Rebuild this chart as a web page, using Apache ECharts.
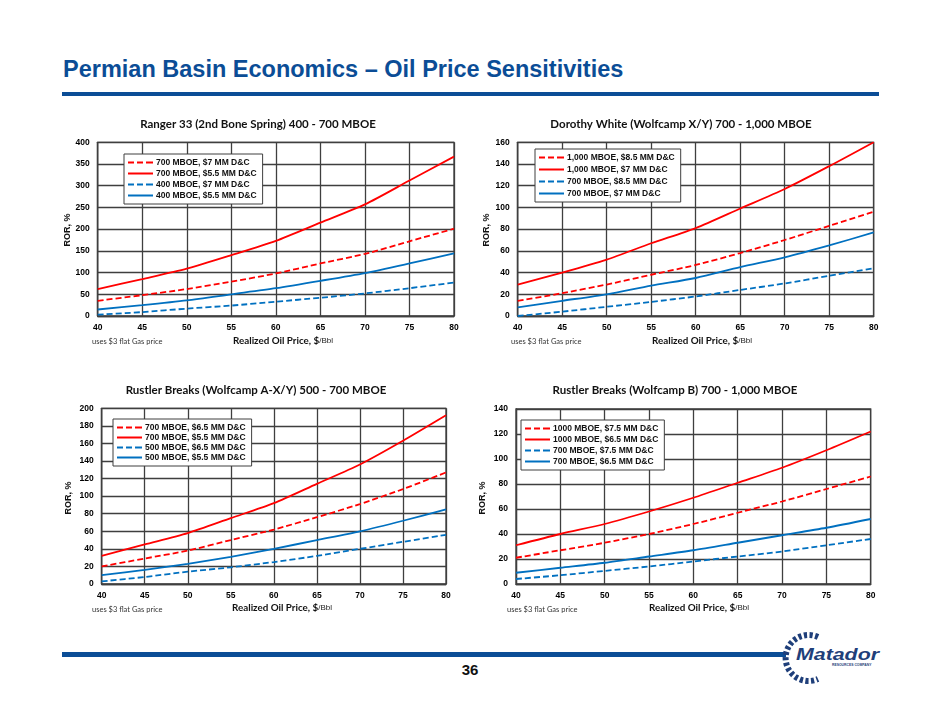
<!DOCTYPE html>
<html>
<head>
<meta charset="utf-8">
<script src="https://cdn.jsdelivr.net/npm/echarts@6/dist/echarts.min.js"></script>
<style>
  html, body { margin: 0; padding: 0; background: #fff; }
  body { width: 940px; height: 705px; position: relative; overflow: hidden; }
  .chart { position: absolute; width: 420px; height: 250px; }
  #pageTitle {
    position: absolute; left: 63px; top: 56px; white-space: nowrap;
    font-family: "Liberation Sans", Arial, sans-serif; font-weight: bold; font-size: 23.5px;
    color: #0b4d96;
  }
  #topRule { position: absolute; left: 62px; top: 92px; width: 817px; height: 4px; background: #0b4d96; }
  #footRule { position: absolute; left: 62px; top: 652px; width: 724px; height: 5px; background: #0b4d96; }
  #pageNum {
    position: absolute; left: 452px; top: 661px; width: 36px; text-align: center;
    font-family: "Liberation Sans", Arial, sans-serif; font-weight: bold; font-size: 15px; color: #111;
  }
  #logo { position: absolute; left: 780px; top: 628px; }
</style>
</head>
<body>
<div id="pageTitle">Permian Basin Economics – Oil Price Sensitivities</div>
<div id="topRule"></div>
<div id="chart1" class="chart" style="left:50px;top:105px;"></div>
<div id="chart2" class="chart" style="left:470px;top:105px;"></div>
<div id="chart3" class="chart" style="left:50px;top:372px;"></div>
<div id="chart4" class="chart" style="left:470px;top:372px;"></div>
<div id="footRule"></div>
<div id="pageNum">36</div>
<svg id="logo" width="105" height="60" viewBox="0 0 105 60">
  <path d="M 38 9 A 23 23 0 1 0 38 51" fill="none" stroke="#1f3f7a" stroke-width="6" stroke-dasharray="3.2 2.4"/>
  <text x="16" y="32" font-family="Liberation Sans, Arial" font-weight="bold" font-style="italic" font-size="16" fill="#1f3f7a" textLength="83" lengthAdjust="spacingAndGlyphs">Matador</text>
  <text x="52" y="38" font-family="Liberation Sans, Arial" font-weight="bold" font-size="3.4" fill="#1f3f7a">RESOURCES COMPANY</text>
</svg>

<script>
// 油价（x 轴）
const oilPrices = [40, 45, 50, 55, 60, 65, 70, 75, 80];

// Ranger 33 (2nd Bone Spring)
const rangerNames = ["700 MBOE, $7 MM D&C", "700 MBOE, $5.5 MM D&C", "400 MBOE, $7 MM D&C", "400 MBOE, $5.5 MM D&C"];
const ranger700Hi = [35, 48, 62, 79, 98, 121, 143, 172, 201];
const ranger700Lo = [62, 85, 109, 140, 173, 215, 257, 312, 367];
const ranger400Hi = [3, 9, 17, 24, 33, 42, 52, 64, 77];
const ranger400Lo = [15, 25, 36, 50, 64, 81, 99, 121, 144];

// Dorothy White (Wolfcamp X/Y)
const dorothyNames = ["1,000 MBOE, $8.5 MM D&C", "1,000 MBOE, $7 MM D&C", "700 MBOE, $8.5 MM D&C", "700 MBOE, $7 MM D&C"];
const dorothy1000Hi = [14, 21, 29, 38, 47, 58, 70, 83, 96];
const dorothy1000Lo = [29, 40, 52, 67, 81, 99, 117, 138, 160];
const dorothy700Hi = [0, 4, 8.5, 13, 18, 24, 30, 37, 44];
const dorothy700Lo = [8, 14, 20, 28, 35, 45, 54, 65, 77];

// Rustler Breaks (Wolfcamp A-X/Y)
const rustlerANames = ["700 MBOE, $6.5 MM D&C", "700 MBOE, $5.5 MM D&C", "500 MBOE, $6.5 MM D&C", "500 MBOE, $5.5 MM D&C"];
const rustlerA700Hi = [20, 29, 38, 50, 62, 76, 91, 108, 127];
const rustlerA700Lo = [32, 45, 58, 75, 92, 114, 136, 163, 192];
const rustlerA500Hi = [3, 8, 14, 19, 25, 32, 40, 48, 56];
const rustlerA500Lo = [10, 16, 23, 31, 40, 50, 60, 72, 85];

// Rustler Breaks (Wolfcamp B)
const rustlerBNames = ["1000 MBOE, $7.5 MM D&C", "1000 MBOE, $6.5 MM D&C", "700 MBOE, $7.5 MM D&C", "700 MBOE, $6.5 MM D&C"];
const rustlerB1000Hi = [21, 27, 33, 40, 48, 57, 66, 76, 86];
const rustlerB1000Lo = [31, 40, 48, 58, 69, 81, 93, 107, 122];
const rustlerB700Hi = [4, 7, 10.5, 14, 18, 22, 26, 31, 36];
const rustlerB700Lo = [9, 13, 17, 22, 27, 33, 39, 45, 52];

const RED = "#ff0000";
const BLUE = "#0070c0";
const GRID = "#3f3f3f";
const TICK_FONT = "Liberation Sans";
const TITLE_FONT = "Lato";

// 图例图标：虚线 / 实线
const DASH_ICON = "path://M0,0h6v2h-6zM9,0h6v2h-6zM18,0h7v2h-7z";
const SOLID_ICON = "path://M0,0h25v2h-25z";

// 每个图表的版面（页面坐标）
const charts = [
  {
    id: "chart1", box: [50, 105], plot: [97.7, 142.3, 454, 316], yMax: 400, yStep: 50,
    title: "Ranger 33 (2nd Bone Spring) 400 - 700 MBOE", titlePos: [258, 124],
    names: rangerNames, values: [ranger700Hi, ranger700Lo, ranger400Hi, ranger400Lo],
    legend: [124, 154], legendGap: 2, ror: [68, 230], xName: [283, 341], note: [92, 342]
  },
  {
    id: "chart2", box: [470, 105], plot: [517.7, 142.3, 873.7, 316], yMax: 160, yStep: 20,
    title: "Dorothy White (Wolfcamp X/Y) 700 - 1,000 MBOE", titlePos: [681, 124],
    names: dorothyNames, values: [dorothy1000Hi, dorothy1000Lo, dorothy700Hi, dorothy700Lo],
    legend: [535, 149], legendGap: 3, ror: [487, 230], xName: [702, 341], note: [511, 342]
  },
  {
    id: "chart3", box: [50, 372], plot: [101.7, 408.3, 446, 584], yMax: 200, yStep: 20,
    title: "Rustler Breaks (Wolfcamp A-X/Y) 500 - 700 MBOE", titlePos: [256, 390],
    names: rustlerANames, values: [rustlerA700Hi, rustlerA700Lo, rustlerA500Hi, rustlerA500Lo],
    legend: [113, 419], legendGap: 1, ror: [69, 498], xName: [282, 608], note: [92, 610]
  },
  {
    id: "chart4", box: [470, 372], plot: [516, 409, 870.7, 584], yMax: 140, yStep: 20,
    title: "Rustler Breaks (Wolfcamp B) 700 - 1,000 MBOE", titlePos: [675, 390],
    names: rustlerBNames, values: [rustlerB1000Hi, rustlerB1000Lo, rustlerB700Hi, rustlerB700Lo],
    legend: [521, 420], legendGap: 2, ror: [483, 498], xName: [699, 608], note: [507, 610]
  }
];

// 系列样式：红虚线、红实线、蓝虚线、蓝实线
const seriesStyles = [
  { color: RED, type: [6, 3], icon: DASH_ICON },
  { color: RED, type: "solid", icon: SOLID_ICON },
  { color: BLUE, type: [6, 3], icon: DASH_ICON },
  { color: BLUE, type: "solid", icon: SOLID_ICON }
];

function renderChart(cfg) {
  const dom = document.getElementById(cfg.id);
  const chart = echarts.init(dom);
  const bx = cfg.box[0], by = cfg.box[1];
  const [x0, y0, x1, y1] = cfg.plot;
  const axisLine = { show: true, lineStyle: { color: GRID, width: 1.3 } };
  const splitLine = { show: true, lineStyle: { color: GRID, width: 1.3 } };
  const tickLabel = { color: "#000", fontSize: 8.5, fontWeight: "bold", fontFamily: TICK_FONT };

  const option = {
    animation: false,
    grid: {
      left: x0 - bx, top: y0 - by, width: x1 - x0, height: y1 - y0,
      show: true, borderColor: GRID, borderWidth: 1.3, backgroundColor: "transparent"
    },
    xAxis: {
      type: "value", min: 40, max: 80, interval: 5,
      axisLine, splitLine, axisTick: { show: false },
      axisLabel: { ...tickLabel, margin: 7 }
    },
    yAxis: {
      type: "value", min: 0, max: cfg.yMax, interval: cfg.yStep,
      axisLine, splitLine, axisTick: { show: false },
      axisLabel: { ...tickLabel, margin: 8 }
    },
    legend: {
      orient: "vertical", left: cfg.legend[0] - bx, top: cfg.legend[1] - by,
      itemWidth: 25, itemHeight: 2, itemGap: cfg.legendGap,
      padding: [4, 6, 4, 4], borderColor: GRID, borderWidth: 1, backgroundColor: "#fff",
      selectedMode: false,
      textStyle: { color: "#111", fontSize: 8.5, fontWeight: "bold", fontFamily: TICK_FONT, padding: [0, 0, 0, -2] },
      data: cfg.names.map((name, i) => ({ name, icon: seriesStyles[i].icon }))
    },
    series: cfg.names.map((name, i) => ({
      name, type: "line", smooth: 0.25, symbol: "none", z: 3,
      lineStyle: { color: seriesStyles[i].color, width: 1.8, type: seriesStyles[i].type },
      itemStyle: { color: seriesStyles[i].color },
      data: oilPrices.map((p, k) => [p, cfg.values[i][k]])
    })),
    graphic: [
      {
        type: "text", x: cfg.titlePos[0] - bx, y: cfg.titlePos[1] - by,
        style: {
          text: cfg.title, align: "center", verticalAlign: "middle",
          fontSize: 11.5, fontWeight: "bold", fontFamily: TITLE_FONT, fill: "#111"
        }
      },
      {
        type: "text", x: cfg.ror[0] - bx, y: cfg.ror[1] - by, rotation: Math.PI / 2,
        style: {
          text: "ROR, %", align: "center", verticalAlign: "middle",
          fontSize: 9, fontWeight: "bold", fontFamily: TICK_FONT, fill: "#111"
        }
      },
      {
        type: "text", x: cfg.xName[0] - bx, y: cfg.xName[1] - by,
        style: {
          text: "{b|Realized Oil Price, $}{n|/Bbl}", align: "center", verticalAlign: "middle",
          rich: {
            b: { fontSize: 9.8, fontWeight: "bold", fontFamily: TITLE_FONT, fill: "#111" },
            n: { fontSize: 8, fontFamily: TICK_FONT, fill: "#222" }
          }
        }
      },
      {
        type: "text", x: cfg.note[0] - bx, y: cfg.note[1] - by,
        style: {
          text: "uses $3 flat Gas price", align: "left", verticalAlign: "middle",
          fontSize: 7.5, fontFamily: TITLE_FONT, fill: "#333"
        }
      }
    ]
  };
  chart.setOption(option);
}

charts.forEach(renderChart);
</script>
</body>
</html>
